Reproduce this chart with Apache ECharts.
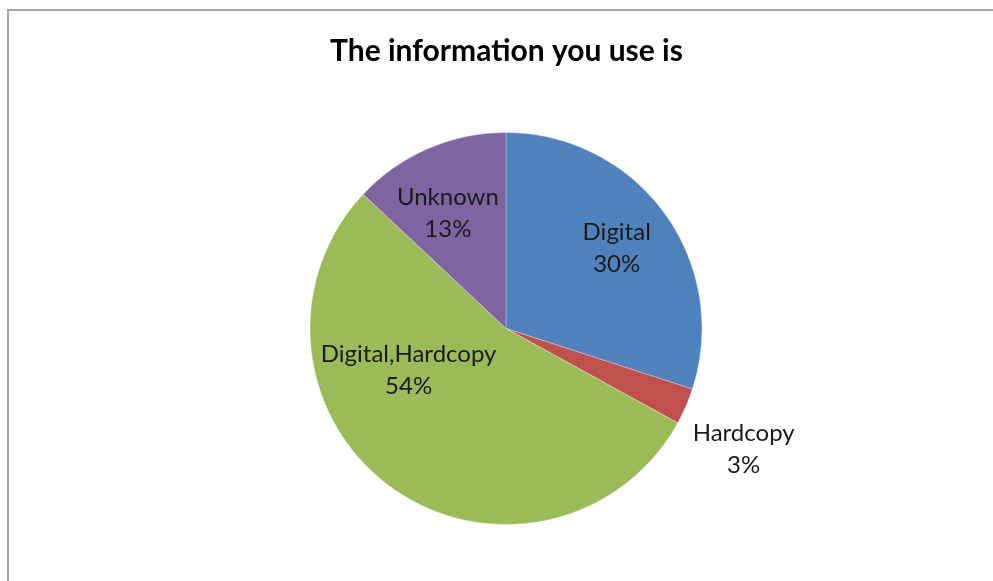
<!DOCTYPE html>
<html>
<head>
<meta charset="utf-8">
<script src="https://cdn.jsdelivr.net/npm/echarts@6/dist/echarts.min.js"></script>
<style>
  html, body { margin: 0; padding: 0; background: #fff; }
  #chart { width: 993px; height: 581px; }
</style>
</head>
<body>
<div id="chart"></div>
<script>
// Share of respondents by type of information used
const categories = ['Digital', 'Hardcopy', 'Digital,Hardcopy', 'Unknown'];
const shares = [30, 3, 54, 13];
const sliceColors = ['#4F81BD', '#C0504D', '#9BBB59', '#8064A2'];

// Label nudges away from the slice midpoint (px)
const labelShift = [[29, -21], [145, 81], [-38, -40], [-18, -23]];

const chart = echarts.init(document.getElementById('chart'), null, { renderer: 'canvas' });

chart.setOption({
  animation: false,
  backgroundColor: '#fff',
  title: {
    text: 'The information you use is',
    left: 325,
    top: 31,
    textStyle: { fontFamily: 'Lato', fontWeight: 'bold', fontSize: 30, color: '#000' }
  },
  graphic: [{
    type: 'rect',
    shape: { x: 8, y: 10, width: 1000, height: 600 },
    style: { fill: 'none', stroke: '#a6a6a6', lineWidth: 2 },
    silent: true
  }],
  series: [{
    type: 'pie',
    center: [506, 328.5],
    radius: 196,
    startAngle: 90,
    clockwise: true,
    avoidLabelOverlap: false,
    itemStyle: { borderColor: 'rgba(255,255,255,0.5)', borderWidth: 0.6 },
    label: {
      show: true,
      position: 'inside',
      formatter: p => p.name + '\n' + p.value + '%',
      fontFamily: 'Lato',
      fontSize: 24,
      lineHeight: 32,
      color: '#1a1a1a'
    },
    labelLine: { show: false },
    labelLayout: p => ({ dx: labelShift[p.dataIndex][0], dy: labelShift[p.dataIndex][1] }),
    emphasis: { disabled: true },
    data: categories.map((name, i) => ({
      name,
      value: shares[i],
      itemStyle: { color: sliceColors[i] }
    }))
  }]
});
</script>
</body>
</html>
